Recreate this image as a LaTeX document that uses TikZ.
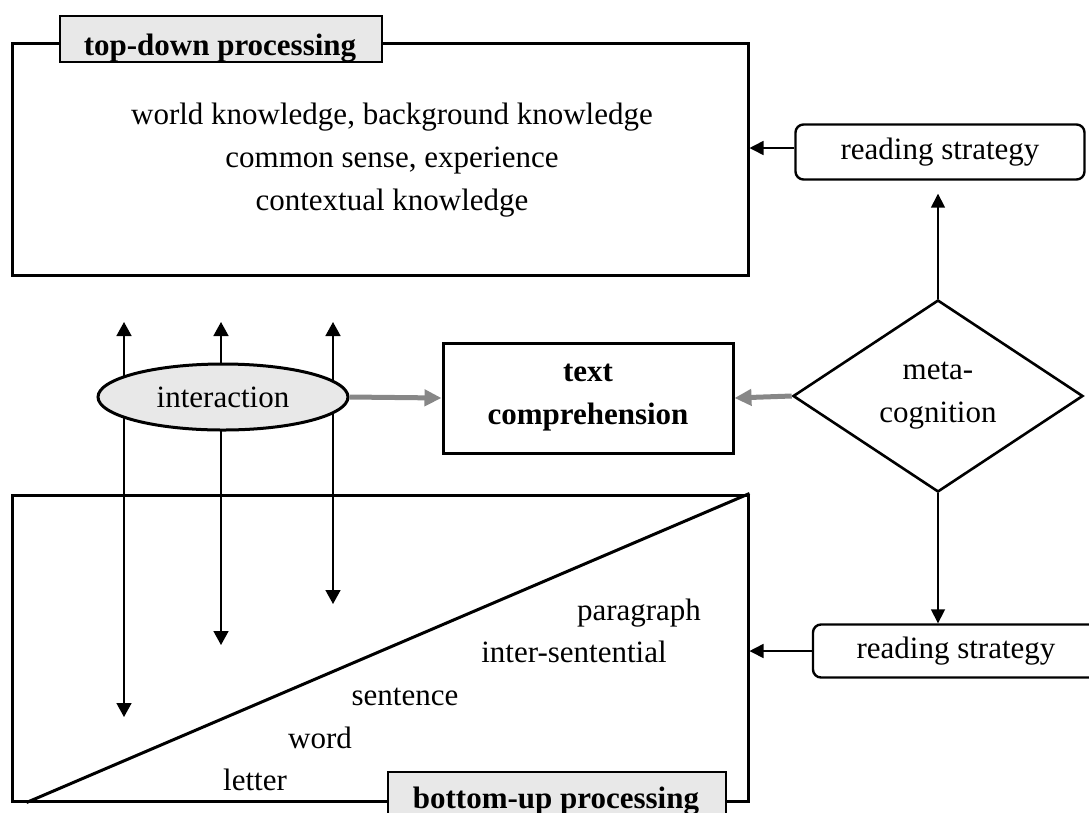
\documentclass[tikz,border=0pt]{standalone}
\usepackage{fontspec}
\setmainfont{Liberation Serif}
\usetikzlibrary{shapes.geometric,arrows.meta,shadows}

\begin{document}
\begin{tikzpicture}[x=1pt,y=-1pt,
  every node/.style={font=\fontsize{31}{43}\selectfont, align=center, inner sep=0pt},
  softshadow/.style={drop shadow={shadow xshift=1.3pt, shadow yshift=-1.3pt, fill=black!55, opacity=0.6}},
  mainbox/.style={draw, line width=3pt, fill=white, softshadow},
  tagbox/.style={draw, line width=2.6pt, fill=black!9, softshadow},
  tagtext/.style={anchor=base, font=\fontsize{31}{43}\selectfont\bfseries},
  stratbox/.style={draw, line width=2.4pt, rounded corners=8pt, fill=white},
  blackarrow/.style={line width=1.6pt, -{Triangle[length=14pt,width=14pt]}},
  bothways/.style={line width=1.6pt, {Triangle[length=14pt,width=15pt]}-{Triangle[length=14pt,width=15pt]}},
  grayarrow/.style={draw=black!47, line width=5pt, -{Triangle[length=17pt,width=16pt]}},
]
\useasboundingbox (0,0) rectangle (1089,812);

% knowledge box (top-down)
\node[mainbox, minimum width=736pt, minimum height=232pt] (topbox) at (380,159) {};
\node (knowledge) at (392,160) {world knowledge, background knowledge\\common sense, experience\\contextual knowledge};
\node[tagbox, minimum width=322pt, minimum height=46pt] (tdtag) at (221,39) {};
\begin{scope}
  \clip (tdtag.south west) rectangle (tdtag.north east);
  \node[tagtext] (tdtext) at (220,55) {top-down processing};
\end{scope}

% linguistic units box (bottom-up)
\node[mainbox, minimum width=736pt, minimum height=306pt] (botbox) at (380,648) {};
\draw[line width=3pt] ([xshift=16pt]botbox.south west) -- (botbox.north east);
\node[anchor=base] (paragraph) at (639,620) {paragraph};
\node[anchor=base] (intersent) at (574,662) {inter-sentential};
\node[anchor=base] (sentence) at (405,705) {sentence};
\node[anchor=base] (word) at (320,748) {word};
\node[anchor=base] (letter) at (255,790) {letter};

% interaction arrows between the two levels
\coordinate (up1) at (124,322); \coordinate (down1) at (124,717);
\coordinate (up2) at (221,322); \coordinate (down2) at (221,645);
\coordinate (up3) at (333,322); \coordinate (down3) at (333,604);
\draw[bothways] (up1) -- (down1);
\draw[bothways] (up2) -- (down2);
\draw[bothways] (up3) -- (down3);

\node[tagbox, minimum width=338pt, minimum height=78pt] (butag) at (557,811) {};
\begin{scope}
  \clip (butag.south west) rectangle (butag.north east);
  \node[tagtext] (butext) at (556,808) {bottom-up processing};
\end{scope}

% centre row
\node[ellipse, draw, line width=3pt, fill=black!9, minimum width=250pt, minimum height=66pt] (interaction) at (223,397) {interaction};
\node[mainbox, minimum width=290pt, minimum height=110pt, font=\fontsize{31}{43}\selectfont\bfseries] (comprehension) at (588,398) {text\\comprehension};
\node[diamond, draw, line width=2.6pt, minimum width=290pt, minimum height=192pt, aspect=1.5] (meta) at (938,396) {meta-\\cognition};

% reading strategies
\node[stratbox, minimum width=289pt, minimum height=55pt] (strategytop) at (940,152) {reading strategy};
\node[stratbox, minimum width=286pt, minimum height=53pt] (strategybot) at (956,651) {reading strategy};

% connectors
\draw[grayarrow] (interaction.east) -- (comprehension.west);
\draw[grayarrow] (meta.west) -- (comprehension.east);
\draw[blackarrow, shorten >=13pt] (meta.north) -- (strategytop.south -| meta.north);
\draw[blackarrow] (meta.south) -- (strategybot.north -| meta.south);
\draw[blackarrow] ([yshift=4pt]strategytop.west) -- ([yshift=4pt]strategytop.west -| topbox.east);
\draw[blackarrow] (strategybot.west) -- (strategybot.west -| botbox.east);
\end{tikzpicture}
\end{document}
